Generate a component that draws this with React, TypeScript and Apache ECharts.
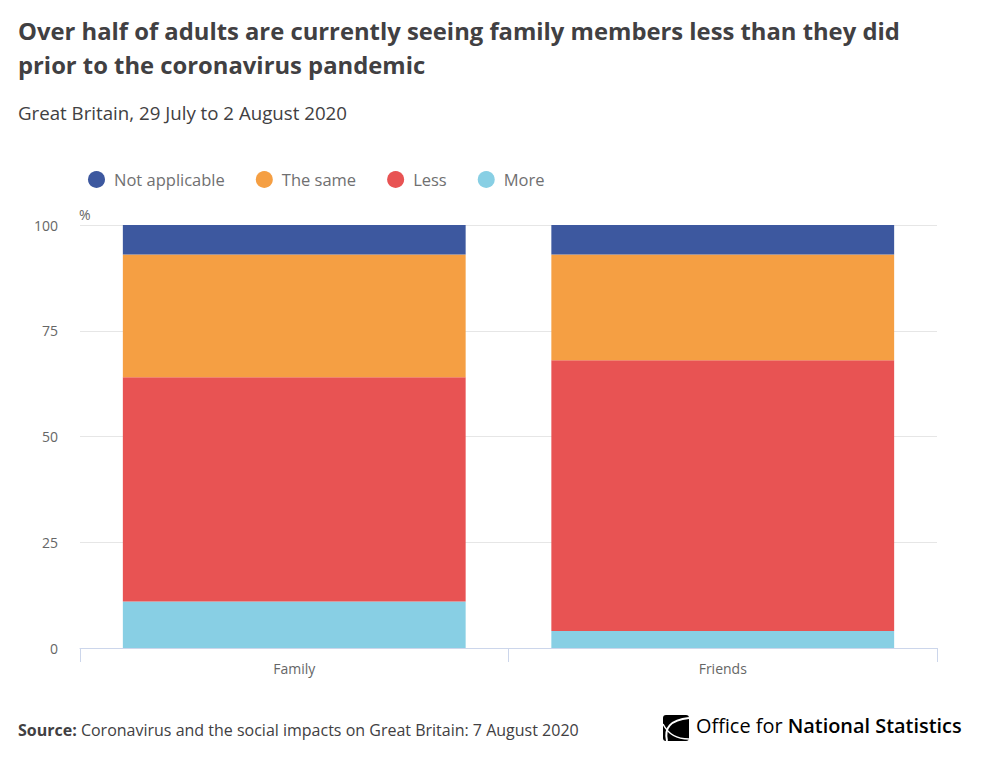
import React, { useEffect, useRef } from "react";
import * as echarts from "echarts";

// categories and stacked values (%)
const categories = ["Family", "Friends"];
const moreValues = [11, 4];
const lessValues = [53, 64];
const sameValues = [29, 25];
const notApplicableValues = [7, 7];
const yTicks = [0, 25, 50, 75, 100];

const FONT = "'Open Sans', 'Noto Sans', sans-serif";

const App: React.FC = () => {
  const chartRef = useRef<HTMLDivElement>(null);

  useEffect(() => {
    const chart = echarts.init(chartRef.current, undefined, { renderer: "svg" });

    const bar = (name: string, data: number[], color: string) => ({
      name,
      type: "bar" as const,
      stack: "total",
      data,
      barWidth: "80%",
      itemStyle: { color },
      emphasis: { disabled: true },
    });

    const option: echarts.EChartsOption = {
      animation: false,
      textStyle: { fontFamily: FONT },
      title: [
        {
          text:
            "Over half of adults are currently seeing family members less than they did\nprior to the coronavirus pandemic",
          left: 13,
          top: 9,
          textStyle: {
            fontFamily: FONT,
            fontSize: 23.8,
            fontWeight: "bold",
            color: "#414042",
            lineHeight: 34,
          },
        },
        {
          text: "Great Britain, 29 July to 2 August 2020",
          left: 13,
          top: 98,
          textStyle: {
            fontFamily: FONT,
            fontSize: 18.7,
            fontWeight: "normal",
            color: "#414042",
          },
        },
      ],
      legend: {
        data: ["Not applicable", "The same", "Less", "More"],
        left: 83,
        top: 166,
        icon: "circle",
        itemWidth: 17,
        itemHeight: 17,
        itemGap: 31,
        textStyle: {
          fontFamily: FONT,
          fontSize: 16.5,
          color: "#707071",
          padding: [0, 0, 0, 4],
        },
      },
      grid: { left: 80, right: 46, top: 225, bottom: 113, containLabel: false },
      xAxis: {
        type: "category",
        data: categories,
        axisLine: { lineStyle: { color: "#ccd6eb" } },
        axisTick: { show: true, length: 14, lineStyle: { color: "#ccd6eb" } },
        axisLabel: { fontFamily: FONT, fontSize: 14, color: "#666666", margin: 13 },
      },
      yAxis: {
        type: "value",
        min: yTicks[0],
        max: yTicks[yTicks.length - 1],
        interval: 25,
        axisLine: { show: false },
        axisTick: { show: false },
        splitLine: { lineStyle: { color: "#e6e6e6" } },
        axisLabel: { fontFamily: FONT, fontSize: 14, color: "#666666", margin: 22 },
      },
      series: [
        bar("More", moreValues, "#88cfe4"),
        bar("Less", lessValues, "#e85353"),
        bar("The same", sameValues, "#f59f43"),
        bar("Not applicable", notApplicableValues, "#3d589f"),
      ],
      graphic: [
        {
          type: "text",
          left: 79,
          top: 207,
          style: { text: "%", fontFamily: FONT, fontSize: 14, fill: "#666666" },
        },
        {
          type: "text",
          left: 18,
          top: 722,
          style: {
            text: "{b|Source:} Coronavirus and the social impacts on Great Britain: 7 August 2020",
            fontFamily: FONT,
            fontSize: 16,
            fill: "#414042",
            rich: {
              b: { fontFamily: FONT, fontSize: 16, fontWeight: "bold", fill: "#414042" },
            },
          },
        },
        // ONS logo mark
        {
          type: "rect",
          shape: { x: 663, y: 715, width: 26, height: 26, r: 3 },
          style: { fill: "#000000" },
        },
        {
          type: "bezierCurve",
          shape: { x1: 689, y1: 718, cpx1: 670, cpy1: 720, cpx2: 664, cpy2: 728, x2: 667, y2: 741 },
          style: { stroke: "#ffffff", lineWidth: 2, fill: "none" },
        },
        {
          type: "bezierCurve",
          shape: { x1: 663, y1: 724, cpx1: 668, cpy1: 734, cpx2: 676, cpy2: 739, x2: 689, y2: 739 },
          style: { stroke: "#ffffff", lineWidth: 1.5, fill: "none" },
        },
        {
          type: "text",
          left: 696,
          top: 715,
          style: {
            text: "Office for {b|National Statistics}",
            fontFamily: FONT,
            fontSize: 19.9,
            fill: "#000000",
            rich: {
              b: { fontFamily: FONT, fontSize: 19.9, fontWeight: 600, fill: "#000000" },
            },
          },
        },
      ],
    };

    chart.setOption(option);
    return () => {
      chart.dispose();
    };
  }, []);

  return (
    <div
      ref={chartRef}
      style={{ position: "fixed", left: 0, top: 0, width: 983, height: 761, background: "#ffffff" }}
    />
  );
};

export default App;
